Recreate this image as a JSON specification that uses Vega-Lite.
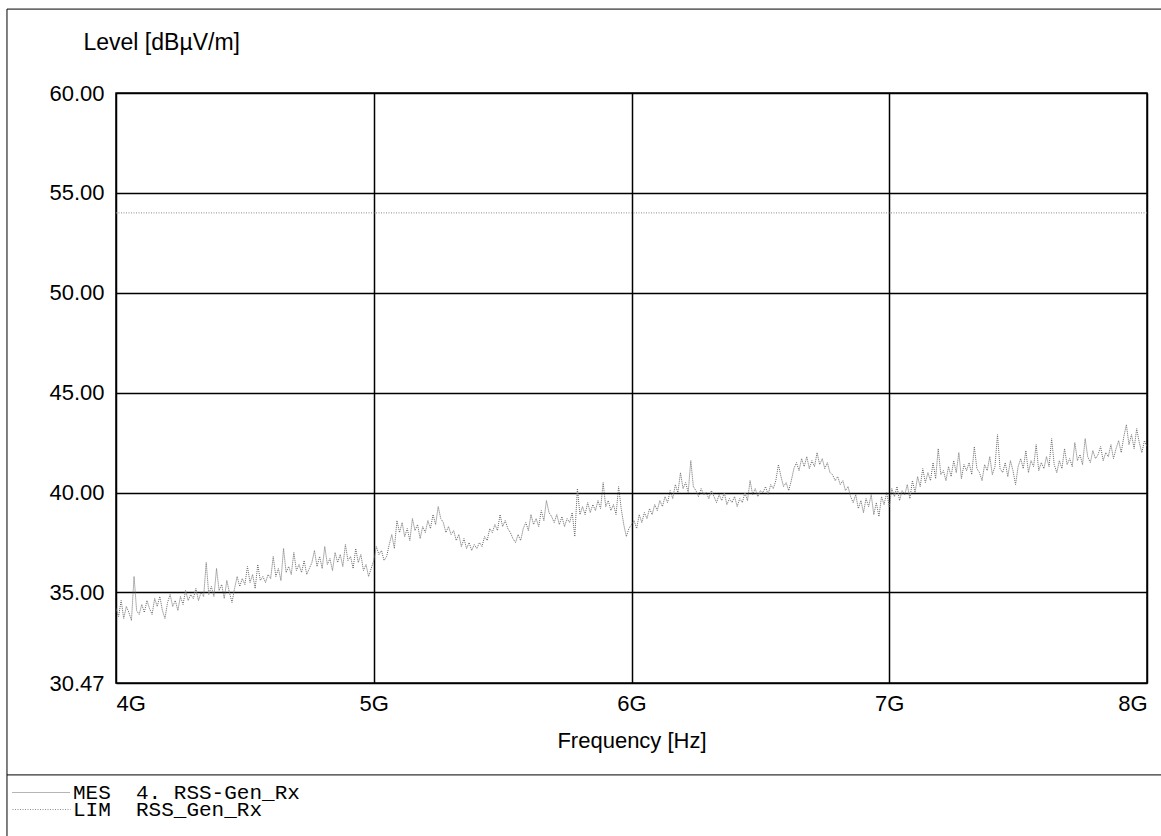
{
 "$schema": "https://vega.github.io/schema/vega-lite/v6.json",
 "autosize": "none",
 "width": 1031,
 "height": 590,
 "padding": {"left": 116, "top": 93, "right": 14, "bottom": 153},
 "background": "white",
 "config": {"view": {"stroke": "black", "strokeWidth": 1.5}, "font": "Liberation Sans"},
 "datasets": {
  "lim": [{"f": 4, "v": 54}, {"f": 8, "v": 54}],
  "mes": [
{"f":4.00,"v":34.2},{"f":4.01,"v":33.8},{"f":4.02,"v":34.6},{"f":4.03,"v":33.7},{"f":4.04,"v":34.3},{"f":4.05,"v":34.0},{"f":4.06,"v":33.6},{"f":4.07,"v":35.8},{"f":4.08,"v":34.1},{"f":4.09,"v":33.9},
{"f":4.10,"v":34.4},{"f":4.11,"v":34.0},{"f":4.12,"v":34.6},{"f":4.13,"v":34.2},{"f":4.14,"v":33.9},{"f":4.15,"v":34.7},{"f":4.16,"v":34.3},{"f":4.17,"v":34.8},{"f":4.18,"v":34.1},{"f":4.19,"v":33.7},
{"f":4.20,"v":34.5},{"f":4.21,"v":34.9},{"f":4.22,"v":34.3},{"f":4.23,"v":34.6},{"f":4.24,"v":34.1},{"f":4.25,"v":34.8},{"f":4.26,"v":34.4},{"f":4.27,"v":35.1},{"f":4.28,"v":34.6},{"f":4.29,"v":34.9},
{"f":4.30,"v":34.7},{"f":4.31,"v":35.2},{"f":4.32,"v":34.6},{"f":4.33,"v":35.0},{"f":4.34,"v":34.8},{"f":4.35,"v":36.5},{"f":4.36,"v":34.9},{"f":4.37,"v":35.3},{"f":4.38,"v":34.8},{"f":4.39,"v":36.2},
{"f":4.40,"v":35.1},{"f":4.41,"v":35.4},{"f":4.42,"v":34.7},{"f":4.43,"v":35.6},{"f":4.44,"v":35.0},{"f":4.45,"v":34.5},{"f":4.46,"v":35.2},{"f":4.47,"v":35.8},{"f":4.48,"v":35.3},{"f":4.49,"v":35.7},
{"f":4.50,"v":35.4},{"f":4.51,"v":36.3},{"f":4.52,"v":35.5},{"f":4.53,"v":35.9},{"f":4.54,"v":35.2},{"f":4.55,"v":36.4},{"f":4.56,"v":35.6},{"f":4.57,"v":35.8},{"f":4.58,"v":35.5},{"f":4.59,"v":35.9},
{"f":4.60,"v":35.7},{"f":4.61,"v":36.8},{"f":4.62,"v":35.8},{"f":4.63,"v":36.2},{"f":4.64,"v":35.6},{"f":4.65,"v":37.2},{"f":4.66,"v":36.0},{"f":4.67,"v":36.3},{"f":4.68,"v":35.9},{"f":4.69,"v":37.0},
{"f":4.70,"v":36.1},{"f":4.71,"v":36.4},{"f":4.72,"v":36.0},{"f":4.73,"v":36.6},{"f":4.74,"v":35.9},{"f":4.75,"v":36.2},{"f":4.76,"v":36.5},{"f":4.77,"v":37.1},{"f":4.78,"v":36.3},{"f":4.79,"v":36.8},
{"f":4.80,"v":36.2},{"f":4.81,"v":37.3},{"f":4.82,"v":36.4},{"f":4.83,"v":36.7},{"f":4.84,"v":36.1},{"f":4.85,"v":37.0},{"f":4.86,"v":36.5},{"f":4.87,"v":36.9},{"f":4.88,"v":36.3},{"f":4.89,"v":37.4},
{"f":4.90,"v":36.6},{"f":4.91,"v":36.8},{"f":4.92,"v":36.2},{"f":4.93,"v":37.2},{"f":4.94,"v":36.5},{"f":4.95,"v":36.9},{"f":4.96,"v":36.1},{"f":4.97,"v":36.4},{"f":4.98,"v":35.8},{"f":4.99,"v":36.2},
{"f":5.00,"v":36.6},{"f":5.01,"v":37.3},{"f":5.02,"v":36.9},{"f":5.03,"v":37.1},{"f":5.04,"v":36.6},{"f":5.05,"v":36.8},{"f":5.06,"v":37.4},{"f":5.07,"v":37.9},{"f":5.08,"v":37.2},{"f":5.09,"v":38.6},
{"f":5.10,"v":38.0},{"f":5.11,"v":38.5},{"f":5.12,"v":37.8},{"f":5.13,"v":38.2},{"f":5.14,"v":37.6},{"f":5.15,"v":38.7},{"f":5.16,"v":38.1},{"f":5.17,"v":38.4},{"f":5.18,"v":37.7},{"f":5.19,"v":38.3},
{"f":5.20,"v":38.0},{"f":5.21,"v":38.6},{"f":5.22,"v":38.2},{"f":5.23,"v":38.9},{"f":5.24,"v":38.4},{"f":5.25,"v":39.3},{"f":5.26,"v":38.7},{"f":5.27,"v":38.5},{"f":5.28,"v":38.0},{"f":5.29,"v":38.3},
{"f":5.30,"v":37.9},{"f":5.31,"v":38.1},{"f":5.32,"v":37.6},{"f":5.33,"v":37.9},{"f":5.34,"v":37.3},{"f":5.35,"v":37.7},{"f":5.36,"v":37.2},{"f":5.37,"v":37.5},{"f":5.38,"v":37.1},{"f":5.39,"v":37.4},
{"f":5.40,"v":37.2},{"f":5.41,"v":37.5},{"f":5.42,"v":37.3},{"f":5.43,"v":37.8},{"f":5.44,"v":37.6},{"f":5.45,"v":38.2},{"f":5.46,"v":38.0},{"f":5.47,"v":38.4},{"f":5.48,"v":38.1},{"f":5.49,"v":38.9},
{"f":5.50,"v":38.3},{"f":5.51,"v":38.6},{"f":5.52,"v":38.2},{"f":5.53,"v":38.0},{"f":5.54,"v":37.7},{"f":5.55,"v":37.5},{"f":5.56,"v":37.9},{"f":5.57,"v":37.6},{"f":5.58,"v":38.2},{"f":5.59,"v":38.5},
{"f":5.60,"v":38.1},{"f":5.61,"v":38.9},{"f":5.62,"v":38.4},{"f":5.63,"v":38.7},{"f":5.64,"v":38.3},{"f":5.65,"v":39.1},{"f":5.66,"v":38.6},{"f":5.67,"v":39.6},{"f":5.68,"v":39.0},{"f":5.69,"v":38.8},
{"f":5.70,"v":38.5},{"f":5.71,"v":38.9},{"f":5.72,"v":38.4},{"f":5.73,"v":38.8},{"f":5.74,"v":38.3},{"f":5.75,"v":38.7},{"f":5.76,"v":38.5},{"f":5.77,"v":39.0},{"f":5.78,"v":37.8},{"f":5.79,"v":40.2},
{"f":5.80,"v":38.9},{"f":5.81,"v":39.3},{"f":5.82,"v":38.9},{"f":5.83,"v":39.5},{"f":5.84,"v":39.0},{"f":5.85,"v":39.4},{"f":5.86,"v":39.1},{"f":5.87,"v":39.6},{"f":5.88,"v":39.2},{"f":5.89,"v":40.5},
{"f":5.90,"v":39.3},{"f":5.91,"v":39.6},{"f":5.92,"v":39.1},{"f":5.93,"v":39.4},{"f":5.94,"v":38.9},{"f":5.95,"v":40.3},{"f":5.96,"v":39.2},{"f":5.97,"v":38.4},{"f":5.98,"v":37.8},{"f":5.99,"v":38.2},
{"f":6.00,"v":38.4},{"f":6.01,"v":38.6},{"f":6.02,"v":38.2},{"f":6.03,"v":38.9},{"f":6.04,"v":38.5},{"f":6.05,"v":39.0},{"f":6.06,"v":38.7},{"f":6.07,"v":39.2},{"f":6.08,"v":38.9},{"f":6.09,"v":39.4},
{"f":6.10,"v":39.1},{"f":6.11,"v":39.6},{"f":6.12,"v":39.3},{"f":6.13,"v":39.8},{"f":6.14,"v":39.5},{"f":6.15,"v":40.1},{"f":6.16,"v":39.7},{"f":6.17,"v":40.4},{"f":6.18,"v":40.0},{"f":6.19,"v":41.0},
{"f":6.20,"v":40.2},{"f":6.21,"v":40.5},{"f":6.22,"v":40.0},{"f":6.23,"v":41.6},{"f":6.24,"v":40.3},{"f":6.25,"v":40.1},{"f":6.26,"v":39.8},{"f":6.27,"v":40.2},{"f":6.28,"v":39.9},{"f":6.29,"v":40.0},
{"f":6.30,"v":39.7},{"f":6.31,"v":40.1},{"f":6.32,"v":39.8},{"f":6.33,"v":39.5},{"f":6.34,"v":39.9},{"f":6.35,"v":39.6},{"f":6.36,"v":40.0},{"f":6.37,"v":39.4},{"f":6.38,"v":39.7},{"f":6.39,"v":39.5},
{"f":6.40,"v":39.8},{"f":6.41,"v":39.3},{"f":6.42,"v":39.7},{"f":6.43,"v":39.5},{"f":6.44,"v":40.0},{"f":6.45,"v":39.6},{"f":6.46,"v":40.6},{"f":6.47,"v":39.9},{"f":6.48,"v":40.2},{"f":6.49,"v":39.8},
{"f":6.50,"v":40.1},{"f":6.51,"v":40.0},{"f":6.52,"v":40.3},{"f":6.53,"v":39.9},{"f":6.54,"v":40.4},{"f":6.55,"v":40.2},{"f":6.56,"v":40.6},{"f":6.57,"v":41.4},{"f":6.58,"v":40.8},{"f":6.59,"v":40.3},
{"f":6.60,"v":40.5},{"f":6.61,"v":40.1},{"f":6.62,"v":40.6},{"f":6.63,"v":41.2},{"f":6.64,"v":41.5},{"f":6.65,"v":41.1},{"f":6.66,"v":41.7},{"f":6.67,"v":41.3},{"f":6.68,"v":41.8},{"f":6.69,"v":41.2},
{"f":6.70,"v":41.6},{"f":6.71,"v":41.3},{"f":6.72,"v":42.0},{"f":6.73,"v":41.4},{"f":6.74,"v":41.7},{"f":6.75,"v":41.2},{"f":6.76,"v":41.5},{"f":6.77,"v":41.0},{"f":6.78,"v":40.9},{"f":6.79,"v":40.6},
{"f":6.80,"v":40.8},{"f":6.81,"v":40.4},{"f":6.82,"v":40.6},{"f":6.83,"v":40.1},{"f":6.84,"v":40.3},{"f":6.85,"v":39.8},{"f":6.86,"v":39.5},{"f":6.87,"v":39.9},{"f":6.88,"v":39.2},{"f":6.89,"v":39.6},
{"f":6.90,"v":39.0},{"f":6.91,"v":39.7},{"f":6.92,"v":39.3},{"f":6.93,"v":39.9},{"f":6.94,"v":38.9},{"f":6.95,"v":39.5},{"f":6.96,"v":38.8},{"f":6.97,"v":39.8},{"f":6.98,"v":39.4},{"f":6.99,"v":40.0},
{"f":7.00,"v":39.3},{"f":7.01,"v":40.2},{"f":7.02,"v":39.8},{"f":7.03,"v":40.3},{"f":7.04,"v":39.6},{"f":7.05,"v":40.1},{"f":7.06,"v":39.9},{"f":7.07,"v":40.4},{"f":7.08,"v":39.7},{"f":7.09,"v":40.6},
{"f":7.10,"v":40.0},{"f":7.11,"v":40.8},{"f":7.12,"v":40.3},{"f":7.13,"v":41.2},{"f":7.14,"v":40.5},{"f":7.15,"v":41.0},{"f":7.16,"v":40.6},{"f":7.17,"v":41.5},{"f":7.18,"v":40.7},{"f":7.19,"v":42.2},
{"f":7.20,"v":40.9},{"f":7.21,"v":41.1},{"f":7.22,"v":40.6},{"f":7.23,"v":41.3},{"f":7.24,"v":40.8},{"f":7.25,"v":41.6},{"f":7.26,"v":41.0},{"f":7.27,"v":42.0},{"f":7.28,"v":40.7},{"f":7.29,"v":41.4},
{"f":7.30,"v":41.1},{"f":7.31,"v":41.5},{"f":7.32,"v":40.9},{"f":7.33,"v":42.3},{"f":7.34,"v":41.2},{"f":7.35,"v":41.0},{"f":7.36,"v":40.6},{"f":7.37,"v":41.4},{"f":7.38,"v":41.1},{"f":7.39,"v":41.8},
{"f":7.40,"v":40.9},{"f":7.41,"v":41.3},{"f":7.42,"v":42.9},{"f":7.43,"v":41.2},{"f":7.44,"v":41.0},{"f":7.45,"v":41.5},{"f":7.46,"v":40.8},{"f":7.47,"v":41.6},{"f":7.48,"v":41.1},{"f":7.49,"v":40.4},
{"f":7.50,"v":41.3},{"f":7.51,"v":41.7},{"f":7.52,"v":41.2},{"f":7.53,"v":42.1},{"f":7.54,"v":41.0},{"f":7.55,"v":41.6},{"f":7.56,"v":41.3},{"f":7.57,"v":42.4},{"f":7.58,"v":41.1},{"f":7.59,"v":41.5},
{"f":7.60,"v":41.2},{"f":7.61,"v":41.8},{"f":7.62,"v":41.3},{"f":7.63,"v":42.7},{"f":7.64,"v":41.4},{"f":7.65,"v":41.0},{"f":7.66,"v":41.6},{"f":7.67,"v":41.2},{"f":7.68,"v":42.2},{"f":7.69,"v":41.4},
{"f":7.70,"v":41.7},{"f":7.71,"v":41.3},{"f":7.72,"v":42.5},{"f":7.73,"v":41.6},{"f":7.74,"v":41.9},{"f":7.75,"v":41.4},{"f":7.76,"v":42.7},{"f":7.77,"v":41.8},{"f":7.78,"v":41.5},{"f":7.79,"v":42.1},
{"f":7.80,"v":41.7},{"f":7.81,"v":41.9},{"f":7.82,"v":42.3},{"f":7.83,"v":41.6},{"f":7.84,"v":42.0},{"f":7.85,"v":41.8},{"f":7.86,"v":42.4},{"f":7.87,"v":41.7},{"f":7.88,"v":42.2},{"f":7.89,"v":42.6},
{"f":7.90,"v":42.0},{"f":7.91,"v":42.8},{"f":7.92,"v":43.4},{"f":7.93,"v":42.4},{"f":7.94,"v":42.9},{"f":7.95,"v":42.2},{"f":7.96,"v":43.2},{"f":7.97,"v":42.5},{"f":7.98,"v":42.0},{"f":7.99,"v":42.6},
{"f":8.00,"v":42.3}
  ]
 },
 "layer": [
  {
   "data": {"name": "mes"},
   "mark": {"type": "line", "strokeWidth": 1, "strokeDash": [1, 1], "clip": true},
   "encoding": {
    "x": {
     "field": "f", "type": "quantitative",
     "scale": {"domain": [4, 8], "nice": false, "zero": false},
     "axis": {
      "values": [4, 5, 6, 7, 8],
      "labelExpr": "datum.value + 'G'",
      "labelFlush": true,
      "grid": true, "gridColor": "black", "gridWidth": 1.5, "gridOpacity": 1,
      "ticks": false, "domain": false,
      "labelFont": "Liberation Sans", "labelFontSize": 22, "labelColor": "black", "labelPadding": 10,
      "title": "Frequency [Hz]",
      "titleFont": "Liberation Sans", "titleFontSize": 22, "titleFontWeight": "normal", "titleColor": "black", "titlePadding": 16
     }
    },
    "y": {
     "field": "v", "type": "quantitative",
     "scale": {"domain": [30.47, 60], "nice": false, "zero": false},
     "axis": {
      "values": [30.47, 35, 40, 45, 50, 55, 60],
      "format": ".2f",
      "grid": true, "gridColor": "black", "gridWidth": 1.5, "gridOpacity": 1,
      "ticks": false, "domain": false,
      "labelFont": "Liberation Sans", "labelFontSize": 22, "labelColor": "black", "labelPadding": 12,
      "labelOverlap": false,
      "title": "Level [dBµV/m]",
      "titleFont": "Liberation Sans", "titleFontSize": 23, "titleFontWeight": "normal", "titleColor": "black",
      "titleAngle": 0, "titleAlign": "left", "titleBaseline": "alphabetic", "titleX": -33, "titleY": -44
     }
    },
    "color": {
     "datum": "MES",
     "scale": {"domain": ["MES"], "range": ["#6a6a6a"]},
     "legend": {
      "orient": "none", "legendX": -104, "legendY": 670, "title": null,
      "symbolType": "stroke", "symbolSize": 3364, "symbolStrokeWidth": 1, "symbolDash": [1, 1],
      "labelFont": "Liberation Mono", "labelFontSize": 21, "labelColor": "black", "labelOffset": 2,
      "labelLimit": 600,
      "labelExpr": "'MES\u00a0\u00a04.\u00a0RSS-Gen_Rx'"
     }
    }
   }
  },
  {
   "data": {"name": "lim"},
   "mark": {"type": "line", "strokeWidth": 1, "color": "#8c8c8c"},
   "encoding": {
    "x": {"field": "f", "type": "quantitative"},
    "y": {"field": "v", "type": "quantitative"},
    "strokeDash": {
     "datum": "LIM",
     "scale": {"domain": ["LIM"], "range": [[1, 1.5]]},
     "legend": {
      "orient": "none", "legendX": -104, "legendY": 687, "title": null,
      "symbolType": "stroke", "symbolSize": 3364, "symbolStrokeWidth": 1, "symbolStrokeColor": "#8c8c8c",
      "labelFont": "Liberation Mono", "labelFontSize": 21, "labelColor": "black", "labelOffset": 2,
      "labelLimit": 600,
      "labelExpr": "'LIM\u00a0\u00a0RSS_Gen_Rx'"
     }
    }
   }
  },
  {
   "data": {"values": [{}]},
   "mark": {"type": "rect", "filled": false, "stroke": "black", "strokeWidth": 1},
   "encoding": {
    "x": {"datum": 3.577, "type": "quantitative"},
    "x2": {"datum": 8.1},
    "y": {"datum": 64.2, "type": "quantitative"},
    "y2": {"datum": 20}
   }
  },
  {
   "data": {"values": [{}]},
   "mark": {"type": "rule", "stroke": "black", "strokeWidth": 1},
   "encoding": {
    "x": {"datum": 3.577, "type": "quantitative"},
    "x2": {"datum": 8.1},
    "y": {"datum": 25.87, "type": "quantitative"}
   }
  }
 ]
}
